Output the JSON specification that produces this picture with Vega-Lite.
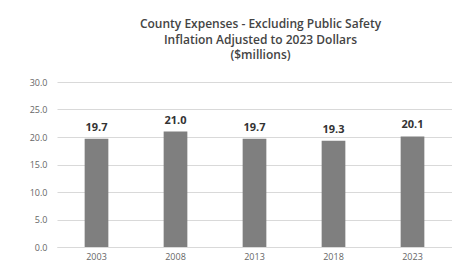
{
  "$schema": "https://vega.github.io/schema/vega-lite/v6.json",
  "width": 395,
  "height": 165,
  "autosize": {"type": "none"},
  "padding": {"left": 57, "top": 82, "right": 0, "bottom": 21},
  "background": "white",
  "title": {
    "text": ["County Expenses - Excluding Public Safety", "Inflation Adjusted to 2023 Dollars", "($millions)"],
    "fontSize": 12,
    "fontWeight": 600,
    "font": "Open Sans",
    "color": "#444444",
    "lineHeight": 15.5,
    "anchor": "middle",
    "offset": 4,
    "dx": 6,
    "baseline": "bottom"
  },
  "data": {
    "values": [
      {"year": "2003", "value": 19.7},
      {"year": "2008", "value": 21.0},
      {"year": "2013", "value": 19.7},
      {"year": "2018", "value": 19.3},
      {"year": "2023", "value": 20.1}
    ]
  },
  "encoding": {
    "x": {
      "field": "year",
      "type": "nominal",
      "scale": {"paddingInner": 0.7, "paddingOuter": 0.35},
      "axis": {
        "title": null,
        "labelAngle": 0,
        "labelFontSize": 9,
        "labelColor": "#666666",
        "labelFont": "Open Sans",
        "ticks": false,
        "domainColor": "#d9d9d9",
        "labelPadding": 5
      }
    },
    "y": {
      "field": "value",
      "type": "quantitative",
      "scale": {"domain": [0, 30]},
      "axis": {
        "title": null,
        "values": [0, 5, 10, 15, 20, 25, 30],
        "format": ".1f",
        "labelFontSize": 9,
        "labelColor": "#666666",
        "labelFont": "Open Sans",
        "ticks": false,
        "domain": false,
        "gridColor": "#d9d9d9",
        "labelPadding": 10
      }
    }
  },
  "layer": [
    {"mark": {"type": "bar", "color": "#7f7f7f"}},
    {
      "mark": {"type": "text", "dy": -11, "fontSize": 11, "fontWeight": "bold", "font": "Open Sans", "color": "#333333"},
      "encoding": {"text": {"field": "value", "type": "quantitative", "format": ".1f"}}
    }
  ],
  "config": {"view": {"stroke": null}}
}
